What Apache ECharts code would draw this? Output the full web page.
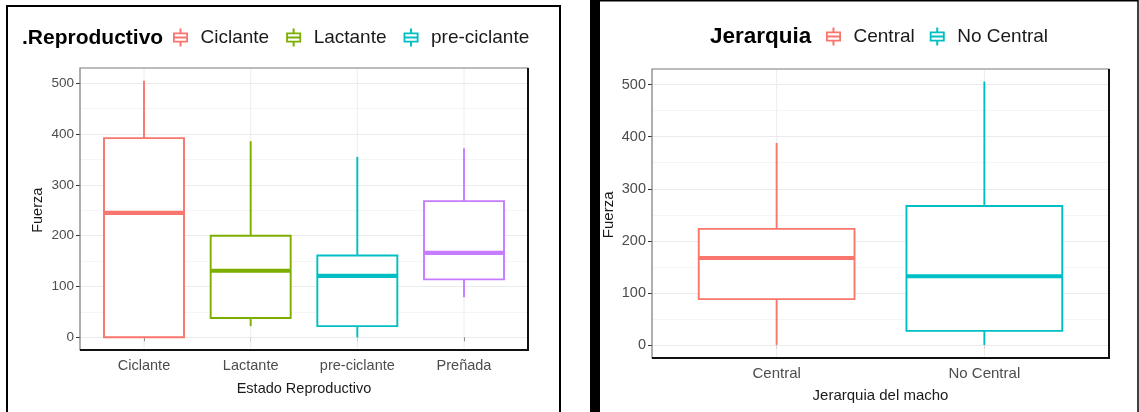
<!DOCTYPE html>
<html>
<head>
<meta charset="utf-8">
<script src="https://cdn.jsdelivr.net/npm/echarts@6/dist/echarts.min.js"></script>
<style>
  html, body { margin: 0; padding: 0; background: #fff; }
  #chart { width: 1139px; height: 412px; }
</style>
</head>
<body>
<div id="chart"></div>
<script>
// Fuerza by group, each as [lower whisker, Q1, median, Q3, upper whisker]
const estadoCats = ['Ciclante', 'Lactante', 'pre-ciclante', 'Preñada'];
const ciclante = [0, 0, 245, 392, 505];
const lactante = [22, 38, 131, 200, 386];
const preCiclante = [0, 22, 121, 161, 355];
const prenada = [79, 114, 166, 268, 372];

const jerarquiaCats = ['Central', 'No Central'];
const central = [0, 88, 167, 223, 388];
const noCentral = [0, 27, 132, 267, 506];

const fuerzaTicks = [0, 100, 200, 300, 400, 500];
const fuerzaRange = [-25, 530];

const RED = '#F8766D', GREEN = '#7CAE00', CYAN = '#00BFC4', PURPLE = '#C77CFF';
const FONT = '"Liberation Sans", Arial, sans-serif';

// small boxplot glyph used as the legend key
const BOX_ICON = 'path://M7 0h2v4h-2z M0.5 4h15v1.8h-15z M0.5 12.2h15v1.8h-15z M0.5 4h1.8v10h-1.8z M13.7 4h1.8v10h-1.8z M0.5 8.1h15v1.8h-15z M7 14h2v4h-2z';

const panels = [
  {
    cats: estadoCats,
    groups: [
      { name: 'Ciclante', stats: ciclante, color: RED },
      { name: 'Lactante', stats: lactante, color: GREEN },
      { name: 'pre-ciclante', stats: preCiclante, color: CYAN },
      { name: 'Preñada', stats: prenada, color: PURPLE }
    ],
    legendNames: ['Ciclante', 'Lactante', 'pre-ciclante'],
    legendTitle: '.Reproductivo',
    xName: 'Estado Reproductivo',
    box: { left: 80, top: 68, width: 448, height: 282 },
    titlePos: { left: 22, top: 28 },
    legendPos: { left: 173, top: 28 },
    legendGap: 17,
    font: { title: 21, legend: 19, tick: 13.5, cat: 14.5, name: 14.5 },
    gaps: { catMargin: 8, xName: 31, yName: 35 },
    boxLine: 1.9
  },
  {
    cats: jerarquiaCats,
    groups: [
      { name: 'Central', stats: central, color: RED },
      { name: 'No Central', stats: noCentral, color: CYAN }
    ],
    legendNames: ['Central', 'No Central'],
    legendTitle: 'Jerarquia',
    xName: 'Jerarquia del macho',
    box: { left: 652, top: 69, width: 457, height: 289 },
    titlePos: { left: 710, top: 25 },
    legendPos: { left: 826, top: 27 },
    legendGap: 15,
    font: { title: 22.5, legend: 19, tick: 14.5, cat: 15, name: 15 },
    gaps: { catMargin: 8, xName: 30, yName: 36 },
    boxLine: 1.9
  }
];

function boxRenderer(lineWidth) {
  return function (params, api) {
    const cat = api.value(0);
    const lo = api.coord([cat, api.value(1)]);
    const q1 = api.coord([cat, api.value(2)]);
    const md = api.coord([cat, api.value(3)]);
    const q3 = api.coord([cat, api.value(4)]);
    const hi = api.coord([cat, api.value(5)]);
    const band = api.size([1, 0])[0];
    const half = band * 0.75 / 2;
    const cx = md[0];
    const color = api.visual('color');
    const cs = params.coordSys;
    const line = (x1, y1, x2, y2, w, c) => ({
      type: 'line', shape: { x1, y1, x2, y2 },
      style: { stroke: c || color, lineWidth: w, lineCap: 'butt' }
    });
    return {
      type: 'group',
      children: [
        line(cx, cs.y, cx, cs.y + cs.height, 1, '#ececec'),
        line(cx, hi[1], cx, q3[1], lineWidth),
        line(cx, q1[1], cx, lo[1], lineWidth),
        {
          type: 'rect',
          shape: { x: cx - half, y: q3[1], width: half * 2, height: q1[1] - q3[1] },
          style: { fill: '#ffffff', stroke: color, lineWidth: lineWidth }
        },
        line(cx - half, md[1], cx + half, md[1], 4.2)
      ]
    };
  };
}

const option = {
  animation: false,
  backgroundColor: '#ffffff',
  title: [], legend: [], grid: [], xAxis: [], yAxis: [], series: [], graphic: []
};

panels.forEach((p, pi) => {
  const b = p.box;
  const f = p.font;
  const span = fuerzaRange[1] - fuerzaRange[0];
  const tMin = fuerzaTicks[0], tMax = fuerzaTicks[fuerzaTicks.length - 1];
  const tickStep = fuerzaTicks[1] - fuerzaTicks[0];
  // discrete axis padded by 0.6 of a category on each side
  const unit = b.width / (p.cats.length + 0.2);
  const bgIdx = pi * 2, dataIdx = pi * 2 + 1;

  // background grid: horizontal grid lines and y tick labels
  option.grid.push({
    left: b.left, width: b.width,
    top: b.top + (fuerzaRange[1] - tMax) / span * b.height,
    height: (tMax - tMin) / span * b.height
  });
  // data grid: categories at the box centres, full panel height
  option.grid.push({
    left: b.left + 0.1 * unit, width: unit * p.cats.length,
    top: b.top, height: b.height
  });

  option.xAxis.push({ gridIndex: bgIdx, type: 'value', show: false, min: 0, max: 1 });
  option.yAxis.push({
    gridIndex: bgIdx, type: 'value', min: tMin, max: tMax, interval: tickStep,
    name: 'Fuerza', nameLocation: 'middle', nameGap: p.gaps.yName, nameRotate: 90,
    nameTextStyle: { color: '#1a1a1a', fontSize: f.name, fontFamily: FONT },
    axisLine: { show: false },
    axisTick: { show: true, length: 4, lineStyle: { color: '#333', width: 1 } },
    axisLabel: { color: '#4d4d4d', fontSize: f.tick, fontFamily: FONT, margin: 6 },
    splitLine: { show: true, lineStyle: { color: '#ebebeb', width: 1 } },
    minorTick: { show: false, splitNumber: 2 },
    minorSplitLine: { show: true, lineStyle: { color: '#f5f5f5', width: 1 } }
  });

  option.xAxis.push({
    gridIndex: dataIdx, type: 'category', data: p.cats,
    name: p.xName, nameLocation: 'middle', nameGap: p.gaps.xName,
    nameTextStyle: { color: '#1a1a1a', fontSize: f.name, fontFamily: FONT },
    axisLine: { show: false },
    axisTick: { show: true, alignWithLabel: true, length: 4, lineStyle: { color: '#333' } },
    axisLabel: { color: '#4d4d4d', fontSize: f.cat, fontFamily: FONT, margin: p.gaps.catMargin },
    splitLine: { show: false }
  });
  option.yAxis.push({ gridIndex: dataIdx, type: 'value', min: fuerzaRange[0], max: fuerzaRange[1], show: false });

  p.groups.forEach(g => {
    option.series.push({
      name: g.name, type: 'custom',
      xAxisIndex: dataIdx, yAxisIndex: dataIdx,
      color: g.color,
      itemStyle: { color: g.color },
      renderItem: boxRenderer(p.boxLine),
      encode: { x: 0, y: [1, 2, 3, 4, 5] },
      data: [[p.cats.indexOf(g.name)].concat(g.stats)]
    });
  });

  option.title.push({
    text: p.legendTitle, left: p.titlePos.left, top: p.titlePos.top, padding: 0,
    textStyle: { color: '#000', fontSize: f.title, fontWeight: 'bold', fontFamily: FONT }
  });
  option.legend.push({
    data: p.legendNames.map(n => ({ name: n, icon: BOX_ICON })),
    left: p.legendPos.left, top: p.legendPos.top, padding: 0,
    itemWidth: 16, itemHeight: 18, itemGap: p.legendGap,
    selectedMode: false,
    textStyle: { color: '#1a1a1a', fontSize: f.legend, fontFamily: FONT, padding: [0, 0, 0, 7] }
  });

  // panel border: grey top/left, dark bottom/right
  option.graphic.push({
    type: 'rect', z: 100, silent: true,
    shape: { x: b.left, y: b.top, width: b.width, height: b.height },
    style: { fill: 'none', stroke: '#7a7a7a', lineWidth: 1.2 }
  });
  option.graphic.push({
    type: 'polyline', z: 101, silent: true,
    shape: { points: [[b.left, b.top + b.height], [b.left + b.width, b.top + b.height], [b.left + b.width, b.top]] },
    style: { fill: 'none', stroke: '#111', lineWidth: 2 }
  });
});

// outer frames around the two figures
option.graphic.push({
  type: 'polyline', z: 110, silent: true,
  shape: { points: [[7, 420], [7, 6], [560, 6], [560, 420]] },
  style: { fill: 'none', stroke: '#000', lineWidth: 2 }
});
option.graphic.push({
  type: 'rect', z: 110, silent: true,
  shape: { x: 590, y: 0, width: 10, height: 412 },
  style: { fill: '#000' }
});
option.graphic.push({
  type: 'polyline', z: 110, silent: true,
  shape: { points: [[595, 0.75], [1138, 0.75], [1138, 420]] },
  style: { fill: 'none', stroke: '#000', lineWidth: 1.5 }
});

const chart = echarts.init(document.getElementById('chart'), null, { renderer: 'canvas', width: 1139, height: 412 });
chart.setOption(option);
</script>
</body>
</html>
